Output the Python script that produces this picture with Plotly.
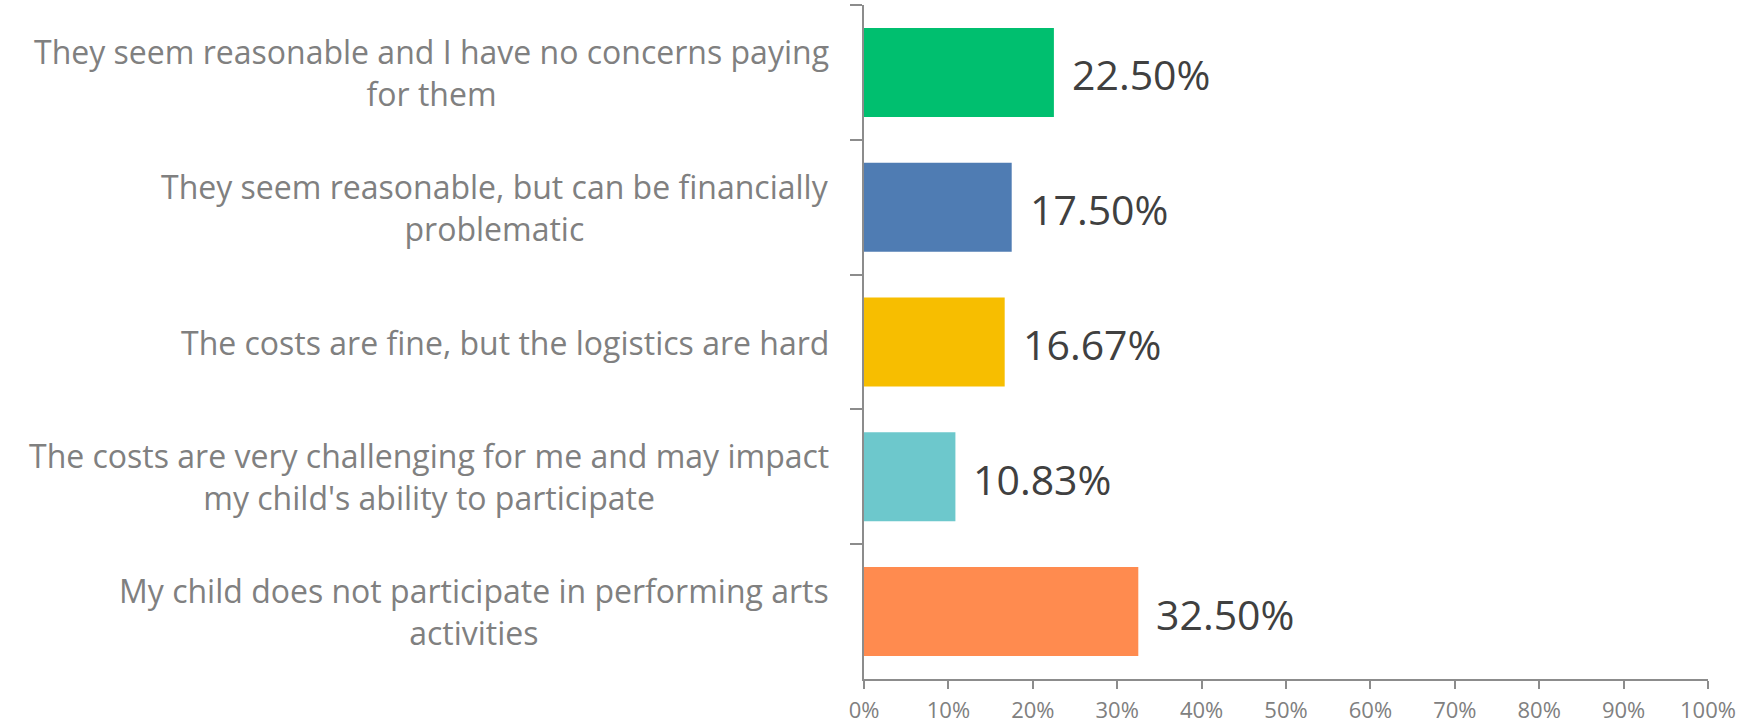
import plotly.graph_objects as go

categories = [
    "They seem reasonable and I have no concerns paying<br>for them",
    "They seem reasonable, but can be financially<br>problematic",
    "The costs are fine, but the logistics are hard",
    "The costs are very challenging for me and may impact<br>my child's ability to participate",
    "My child does not participate in performing arts<br>activities",
]
values = [22.50, 17.50, 16.67, 10.83, 32.50]
colors = ["#00BF6F", "#4F7CB3", "#F7BE00", "#6DC8CC", "#FF8B4F"]
x_ticks = [0, 10, 20, 30, 40, 50, 60, 70, 80, 90, 100]

fig = go.Figure()
fig.add_trace(go.Bar(
    y=categories, x=values, orientation="h",
    marker=dict(color=colors, line=dict(width=0)),
    textposition="none",
    hoverinfo="skip",
))

annotations = []
for c, v in zip(categories, values):
    annotations.append(dict(
        x=v, y=c, xref="x", yref="y", text=f"{v:.2f}%", showarrow=False,
        xanchor="left", yanchor="middle", xshift=16, yshift=-2,
        font=dict(family="Open Sans", size=41, color="#404040"),
    ))
    annotations.append(dict(
        x=0, y=c, xref="paper", yref="y", text=c, showarrow=False,
        xanchor="right", yanchor="middle", xshift=-33, align="center",
        font=dict(family="Open Sans", size=32, color="#808080"),
    ))

fig.update_layout(
    width=1756, height=725,
    margin=dict(l=864, r=48, t=5, b=46),
    paper_bgcolor="white", plot_bgcolor="white",
    bargap=0.34, showlegend=False,
    annotations=annotations,
    xaxis=dict(
        range=[0, 100], tickvals=x_ticks, ticktext=[f"{t}%" for t in x_ticks],
        showgrid=False, zeroline=False, showline=True, linecolor="#8c8c8c", linewidth=2,
        ticks="outside", ticklen=8, tickwidth=2, tickcolor="#8c8c8c",
        tickfont=dict(family="Open Sans", size=22, color="#808080"),
        ticklabelstandoff=3,
        automargin=False,
    ),
    yaxis=dict(
        categoryorder="array", categoryarray=categories, autorange="reversed",
        showticklabels=False, showgrid=False, zeroline=False,
        showline=True, linecolor="#8c8c8c", linewidth=2,
        ticks="outside", ticklen=12, tickwidth=2, tickcolor="#8c8c8c",
        tickson="boundaries", automargin=False,
    ),
)

fig.write_html("out.html", config={"displayModeBar": False},
               post_script="document.body.style.margin='0px';")
